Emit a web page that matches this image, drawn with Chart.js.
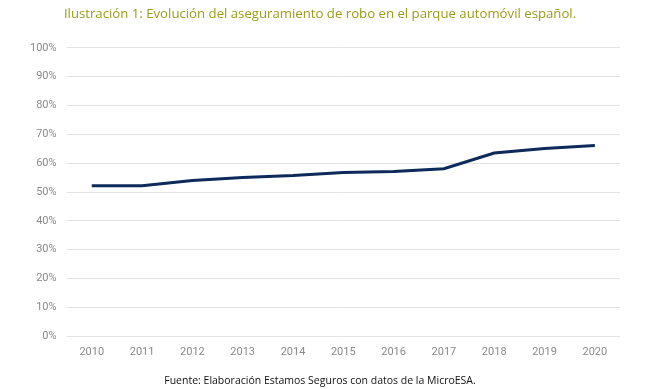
<!DOCTYPE html>
<html>
	<head>
		<title>Aseguramiento de robo</title>
		<meta charset="UTF-8">
		<script src="https://cdn.jsdelivr.net/npm/chart.js@4"></script>
		<style>
			html, body { margin: 0; padding: 0; background: #fff; }
			#wrap { width: 650px; height: 389px; position: relative; }
		</style>
	</head>
	<body>
		<div id="wrap"><canvas id="line-chart" width="650" height="389"></canvas></div>

		<script>
			const years = ['2010', '2011', '2012', '2013', '2014', '2015', '2016', '2017', '2018', '2019', '2020'];
			const aseguramiento = [52.2, 52.2, 54.0, 55.0, 55.7, 56.8, 57.1, 58.1, 63.5, 65.1, 66.1];
			const yTicks = [0, 10, 20, 30, 40, 50, 60, 70, 80, 90, 100];

			new Chart(document.getElementById('line-chart'), {
				type: 'line',
				data: {
					labels: years,
					datasets: [{
						data: aseguramiento,
						borderColor: '#0d2a5a',
						borderWidth: 3,
						pointRadius: 0,
						tension: 0,
						fill: false
					}]
				},
				options: {
					responsive: false,
					animation: false,
					layout: { padding: { left: 20, right: 30, top: 0, bottom: 2 } },
					plugins: {
						legend: { display: false },
						tooltip: { enabled: false },
						title: {
							display: true,
							text: 'Ilustración 1: Evolución del aseguramiento de robo en el parque automóvil español.',
							color: '#9c9c1c',
							font: { family: 'Open Sans', size: 13.2, weight: 'normal' },
							padding: { top: 6, bottom: 26 }
						},
						subtitle: {
							display: true,
							position: 'bottom',
							text: 'Fuente: Elaboración Estamos Seguros con datos de la MicroESA.',
							color: '#111',
							font: { family: 'Open Sans', size: 10.5 },
							padding: { top: 15, bottom: 0 }
						}
					},
					scales: {
						x: {
							offset: true,
							grid: { display: false },
							border: { display: false },
							ticks: { color: '#8a8a8a', font: { family: 'Roboto', size: 11 }, padding: 1 }
						},
						y: {
							min: 0,
							max: 100,
							afterBuildTicks: axis => { axis.ticks = yTicks.map(v => ({ value: v })); },
							grid: { color: '#e3e3e3', lineWidth: 1, drawTicks: false },
							border: { display: false },
							ticks: {
								color: '#8a8a8a',
								font: { family: 'Roboto', size: 11 },
								padding: 10,
								callback: v => v + '%'
							}
						}
					}
				}
			});
		</script>
	</body>
</html>
